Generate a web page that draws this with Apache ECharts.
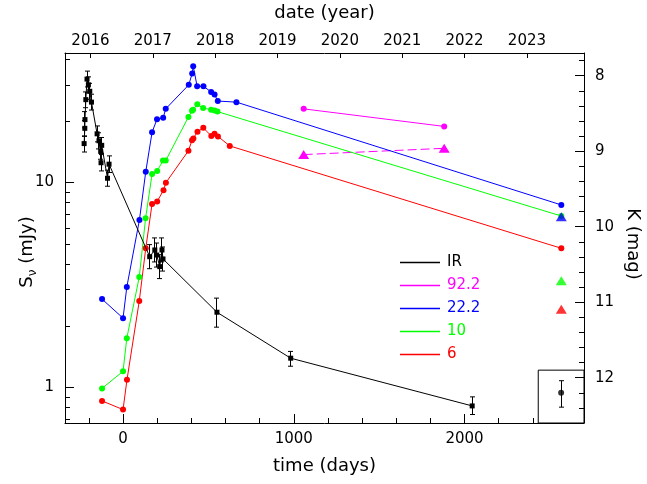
<!DOCTYPE html>
<html>
<head>
<meta charset="utf-8">
<title>light curves</title>
<script src="https://cdn.jsdelivr.net/npm/echarts@6/dist/echarts.min.js"></script>
<style>
html, body { margin: 0; padding: 0; background: #fff; }
#main { width: 647px; height: 484px; }
</style>
</head>
<body>
<div id="main"></div>
<script>
/**
 * axes ranges and ticks
 */
var dayMin = -340, dayMax = 2700;
var yearOfDay0 = 2016.523;       // date of day 0
var yearTicks = [2016, 2017, 2018, 2019, 2020, 2021, 2022, 2023];
var dayMajorTicks = [0, 1000, 2000];
var dayMinorTicks = [-200, 200, 400, 600, 800, 1200, 1400, 1600, 1800, 2200, 2400];
var fluxMin = 0.671, fluxMax = 42.9;
var fluxMajorTicks = [1, 10];
var fluxMinorTicks = [0.7, 0.8, 0.9, 2, 3, 4, 5, 6, 7, 8, 9, 20, 30, 40];
var magMin = 7.7, magMax = 12.6;
var magMajorTicks = [8, 9, 10, 11, 12];
var magMinorTicks = [7.8, 8.2, 8.4, 8.6, 8.8, 9.2, 9.4, 9.6, 9.8, 10.2, 10.4, 10.6, 10.8, 11.2, 11.4, 11.6, 11.8, 12.2, 12.4];

/**
 * IR (mJy) with error bars
 */
var irDays = [-228, -224, -223, -218, -211, -203, -195, -185, -152, -141, -131, -129, -125, -91, -82,
	156, 186, 197, 215, 228, 234, 550, 982, 2045];
var irFlux = [15.5, 18.4, 20.3, 25.4, 32.0, 30.0, 27.9, 24.7, 17.3, 16.0, 14.2, 12.5, 15.2, 10.5, 12.3,
	4.35, 4.69, 4.43, 3.89, 4.69, 4.24, 2.33, 1.39, 0.813];
var irLow = [14.1, 16.8, 18.5, 23.2, 29.3, 27.4, 25.5, 22.6, 15.8, 14.6, 13.0, 11.4, 13.9, 9.6, 11.2,
	3.80, 4.10, 3.87, 3.40, 4.10, 3.70, 1.97, 1.27, 0.738];
var irHigh = [16.9, 20.1, 22.2, 27.7, 35.0, 32.8, 30.5, 27.0, 18.9, 17.5, 15.5, 13.7, 16.6, 11.5, 13.5,
	4.98, 5.37, 5.07, 4.45, 5.37, 4.85, 2.73, 1.50, 0.90];

/**
 * radio (mJy), name = frequency
 */
var daysM = [1058, 1881];
var fluxM = [22.9, 18.8];
var daysMTri = [1058, 1881];
var fluxMTri = [13.7, 14.7];

var daysB = [-123, 0, 22, 96, 133, 170, 199, 235, 250, 385, 405, 411, 434, 471, 516, 536, 555, 664, 2567];
var fluxB = [2.70, 2.18, 3.09, 6.57, 11.3, 17.6, 20.4, 20.7, 22.9, 30.0, 34.1, 37.0, 29.5, 29.5, 27.7, 26.9, 25.0, 24.7, 7.78];

var daysG = [-123, 0, 22, 95, 132, 170, 200, 234, 250, 383, 404, 410, 435, 469, 516, 536, 553, 2567];
var fluxG = [0.99, 1.20, 1.74, 3.46, 6.70, 11.0, 11.4, 12.8, 12.8, 20.9, 22.4, 22.7, 24.1, 23.1, 22.7, 22.5, 22.2, 6.87];

var daysR = [-123, 0, 23, 95, 133, 170, 200, 237, 251, 383, 404, 412, 436, 470, 517, 536, 556, 625, 2567];
var fluxR = [0.86, 0.78, 1.09, 2.64, 4.78, 7.87, 8.09, 9.18, 9.99, 14.3, 16.1, 16.4, 17.7, 18.5, 16.9, 17.3, 16.8, 15.1, 4.78];

// triangles at the last epoch
var triDays = [2567, 2567, 2567];
var triFlux = [6.82, 3.32, 2.41];   // 22.2, 10, 6

/**
 * K band point in the box (mag)
 */
var kDays = [2566];
var kMag = [12.20];
var kLow = [12.04];
var kHigh = [12.39];
var boxDayFrom = 2432, boxMagTop = 11.90;

var FONT = 'DejaVu Sans';

function pairs(xs, ys) {
	var out = [];
	for (var i = 0; i < xs.length; i++) out.push([xs[i], ys[i]]);
	return out;
}

function crisp(v) {
	return Math.round(v - 0.5) + 0.5;
}

// error bars through the axis scales
function errorBars(xs, lo, hi, yIdx) {
	var data = [];
	for (var i = 0; i < xs.length; i++) data.push([xs[i], lo[i], hi[i]]);
	return {
		type: 'custom',
		xAxisIndex: 0,
		yAxisIndex: yIdx,
		silent: true,
		z: 3,
		data: data,
		renderItem: function(params, api) {
			var a = api.coord([api.value(0), api.value(2)]);
			var b = api.coord([api.value(0), api.value(1)]);
			var x = crisp(a[0]), w = 2.5;
			var st = { stroke: '#000', lineWidth: 1 };
			return {
				type: 'group',
				children: [
					{ type: 'line', shape: { x1: x, y1: a[1], x2: x, y2: b[1] }, style: st },
					{ type: 'line', shape: { x1: x - w, y1: a[1], x2: x + w, y2: a[1] }, style: st },
					{ type: 'line', shape: { x1: x - w, y1: b[1], x2: x + w, y2: b[1] }, style: st }
				]
			};
		}
	};
}

function lineSeries(name, color, xs, ys) {
	return {
		name: name,
		type: 'line',
		xAxisIndex: 0,
		yAxisIndex: 0,
		data: pairs(xs, ys),
		symbol: 'circle',
		symbolSize: 6,
		showAllSymbol: true,
		itemStyle: { color: color },
		lineStyle: { color: color, width: 1 },
		z: 4
	};
}

function triangle(name, color, xs, ys) {
	return {
		name: name,
		type: 'scatter',
		xAxisIndex: 0,
		yAxisIndex: 0,
		data: pairs(xs, ys),
		symbol: 'triangle',
		symbolSize: [11, 9],
		itemStyle: { color: color },
		z: 6
	};
}

function tickOpt(len, values) {
	return { show: true, inside: true, length: len, customValues: values.slice(), lineStyle: { color: '#000', width: 1 } };
}
function lineOpt(show) {
	return { show: show, onZero: false, lineStyle: { color: '#000', width: 1 } };
}
function labelOpt(values, margin) {
	return {
		show: true, customValues: values.slice(), margin: margin,
		fontFamily: FONT, fontSize: 15, color: '#000',
		formatter: function(v) { return String(Math.round(v)); }
	};
}
function nameOpt() {
	return { fontFamily: FONT, fontSize: 18, color: '#000' };
}

var myChart = echarts.init(document.getElementById('main'));

option = {
	animation: false,
	grid: { left: 65, right: 63, top: 53, bottom: 61, outerBoundsMode: 'none' },
	legend: {
		left: 400,
		top: 254,
		orient: 'vertical',
		padding: 0,
		itemGap: 6,
		itemWidth: 40,
		itemHeight: 1.5,
		icon: 'rect',
		textStyle: { fontFamily: FONT, fontSize: 15, lineHeight: 17, padding: [0, 0, 0, 2] },
		data: [
			{ name: 'IR', textStyle: { color: '#000' } },
			{ name: '92.2', textStyle: { color: '#ff00ff' } },
			{ name: '22.2', textStyle: { color: '#0000ff' } },
			{ name: '10', textStyle: { color: '#00ff00' } },
			{ name: '6', textStyle: { color: '#ff0000' } }
		]
	},
	xAxis: [{
		// time (days)
		type: 'value', position: 'bottom', min: dayMin, max: dayMax,
		axisLine: lineOpt(true),
		axisTick: tickOpt(9, dayMajorTicks),
		axisLabel: labelOpt(dayMajorTicks, 9),
		splitLine: { show: false },
		name: 'time (days)', nameLocation: 'middle', nameGap: 34, nameMoveOverlap: false,
		nameTextStyle: nameOpt()
	}, {
		type: 'value', position: 'bottom', min: dayMin, max: dayMax,
		axisLine: lineOpt(false),
		axisTick: tickOpt(5, dayMinorTicks),
		axisLabel: { show: false },
		splitLine: { show: false }
	}, {
		// date (year)
		type: 'value', position: 'top',
		min: yearOfDay0 + dayMin / 365.25, max: yearOfDay0 + dayMax / 365.25,
		axisLine: lineOpt(true),
		axisTick: tickOpt(5, yearTicks),
		axisLabel: labelOpt(yearTicks, 4),
		splitLine: { show: false },
		name: 'date (year)', nameLocation: 'middle', nameGap: 31, nameMoveOverlap: false,
		nameTextStyle: nameOpt()
	}],
	yAxis: [{
		// S_nu (mJy)
		type: 'log', position: 'left', min: fluxMin, max: fluxMax,
		axisLine: lineOpt(true),
		axisTick: tickOpt(9, fluxMajorTicks),
		axisLabel: labelOpt(fluxMajorTicks, 11),
		splitLine: { show: false },
		name: '{n|S}{s|ν}{n| (mJy)}', nameLocation: 'middle', nameGap: 26, nameMoveOverlap: false,
		nameTextStyle: {
			fontFamily: FONT, fontSize: 18, color: '#000', padding: [0, 28, 0, 0],
			rich: {
				n: { fontFamily: FONT, fontSize: 18, color: '#000', lineHeight: 24 },
				s: { fontFamily: FONT, fontSize: 12, color: '#000', verticalAlign: 'bottom' }
			}
		}
	}, {
		type: 'log', position: 'left', min: fluxMin, max: fluxMax,
		axisLine: lineOpt(false),
		axisTick: tickOpt(5, fluxMinorTicks),
		axisLabel: { show: false },
		splitLine: { show: false }
	}, {
		// K (mag)
		type: 'value', position: 'right', inverse: true, min: magMin, max: magMax,
		axisLine: lineOpt(true),
		axisTick: tickOpt(9, magMajorTicks),
		axisLabel: labelOpt(magMajorTicks, 11),
		splitLine: { show: false },
		name: 'K (mag)', nameLocation: 'middle', nameGap: 40, nameRotate: -90, nameMoveOverlap: false,
		nameTextStyle: { fontFamily: FONT, fontSize: 18, color: '#000', padding: [0, 0, 0, 12] }
	}, {
		type: 'value', position: 'right', inverse: true, min: magMin, max: magMax,
		axisLine: lineOpt(false),
		axisTick: tickOpt(5, magMinorTicks),
		axisLabel: { show: false },
		splitLine: { show: false }
	}],
	series: [
		errorBars(irDays, irLow, irHigh, 0),
		{
			name: 'IR',
			type: 'line',
			xAxisIndex: 0,
			yAxisIndex: 0,
			data: pairs(irDays, irFlux),
			symbol: 'rect',
			symbolSize: 5,
			showAllSymbol: true,
			itemStyle: { color: '#000' },
			lineStyle: { color: '#000', width: 1 },
			z: 5
		},
		lineSeries('92.2', '#ff00ff', daysM, fluxM),
		{
			name: '92.2 tri',
			type: 'line',
			xAxisIndex: 0,
			yAxisIndex: 0,
			data: pairs(daysMTri, fluxMTri),
			symbol: 'triangle',
			symbolSize: [11, 9],
			itemStyle: { color: '#ff00ff' },
			lineStyle: { color: '#ff00ff', width: 1, type: [9, 4] },
			z: 4
		},
		lineSeries('22.2', '#0000ff', daysB, fluxB),
		lineSeries('10', '#00ff00', daysG, fluxG),
		lineSeries('6', '#ff0000', daysR, fluxR),
		triangle('22.2 tri', '#0000ff', [triDays[0]], [triFlux[0]]),
		triangle('10 tri', '#00ff00', [triDays[1]], [triFlux[1]]),
		triangle('6 tri', '#ff0000', [triDays[2]], [triFlux[2]]),
		errorBars(kDays, kLow, kHigh, 2),
		{
			name: 'K',
			type: 'scatter',
			xAxisIndex: 0,
			yAxisIndex: 2,
			data: pairs(kDays, kMag),
			symbol: 'circle',
			symbolSize: 6,
			itemStyle: { color: '#000' },
			z: 5,
			markArea: {
				silent: true,
				itemStyle: { color: 'rgba(0,0,0,0)', borderColor: '#000', borderWidth: 1 },
				data: [[{ xAxis: boxDayFrom, yAxis: boxMagTop }, { xAxis: dayMax, yAxis: magMax }]]
			}
		}
	]
};

myChart.setOption(option);
</script>
</body>
</html>
